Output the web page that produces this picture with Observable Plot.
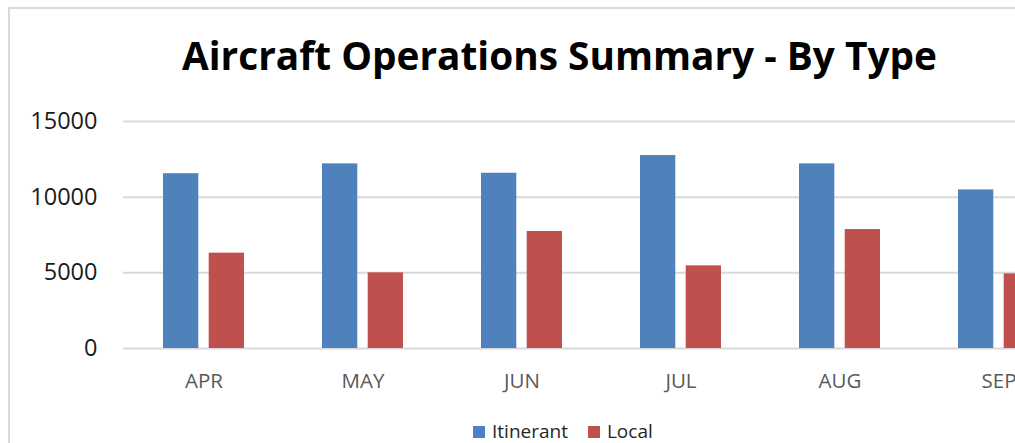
<!DOCTYPE html>
<html>
<head>
<meta charset="utf-8">
<script src="https://cdn.jsdelivr.net/npm/d3@7"></script>
<script src="https://cdn.jsdelivr.net/npm/@observablehq/plot@0.6"></script>
<style>
  html, body { margin: 0; padding: 0; background: #fff; }
  body { width: 1015px; height: 443px; overflow: hidden; position: relative; font-family: "Open Sans", sans-serif; }
  #frame { position: absolute; left: 8px; top: 7px; width: 1120px; height: 480px;
           border-top: 2px solid #d9d9d9; border-left: 2px solid #d9d9d9; box-sizing: border-box; }
  #title { position: absolute; left: 0; top: 0; }
  #chart { position: absolute; left: 0; top: 100px; width: 1110px; }
  #chart svg { max-width: none !important; }
  #legend { position: absolute; left: 473px; top: 422px; display: flex; align-items: center;
            font-size: 19px; line-height: 19px; color: #262626; white-space: nowrap; }
  #legend .sw { display: inline-block; width: 12px; height: 12px; margin-right: 7px; }
  #legend .item { display: flex; align-items: center; margin-right: 20px; }
</style>
</head>
<body>
<div id="frame"></div>
<div id="title"></div>
<div id="chart"></div>
<div id="legend"></div>
<script>
const months = ["APR", "MAY", "JUN", "JUL", "AUG", "SEP"];
const itinerant = [11550, 12200, 11580, 12750, 12200, 10480];
const local = [6300, 5000, 7730, 5460, 7860, 4930];
const seriesNames = ["Itinerant", "Local"];
const seriesColors = ["#4F81BD", "#C0504D"];
const yTicks = [0, 5000, 10000, 15000];
const titleText = "Aircraft Operations Summary - By Type";

const itData = months.map((m, i) => ({month: m, value: itinerant[i]}));
const loData = months.map((m, i) => ({month: m, value: local[i]}));

// Title
const tsvg = d3.select("#title").append("svg").attr("width", 1015).attr("height", 100);
tsvg.append("text")
  .attr("x", 182).attr("y", 70)
  .attr("textLength", 755).attr("lengthAdjust", "spacingAndGlyphs")
  .attr("font-family", "Open Sans, sans-serif")
  .attr("font-weight", "bold").attr("font-size", 39)
  .attr("fill", "#000")
  .text(titleText);

// Chart
const W = 1110;
const bandInset = 45.7;
const plot = Plot.plot({
  width: W,
  height: 300,
  marginTop: 21,
  marginBottom: 52,
  marginLeft: 123,
  marginRight: W - 1079,
  style: {fontFamily: "Open Sans, sans-serif", fontSize: "19px", background: "transparent", overflow: "visible", maxWidth: "none"},
  x: {type: "band", domain: months, paddingInner: 0.49, paddingOuter: 0.245, label: null},
  y: {domain: [0, 15000], label: null},
  marks: [
    Plot.gridY(yTicks, {stroke: "#d9d9d9", strokeOpacity: 1, strokeWidth: 2}),
    Plot.barY(itData, {x: "month", y: "value", fill: seriesColors[0], insetRight: bandInset}),
    Plot.barY(loData, {x: "month", y: "value", fill: seriesColors[1], insetLeft: bandInset}),
    Plot.axisY(yTicks, {tickSize: 0, tickPadding: 26, fontSize: 23.5, fill: "#1a1a1a", label: null, tickFormat: d => String(d)}),
    Plot.axisX({tickSize: 0, tickPadding: 24.5, fontSize: 20.5, fill: "#595959", label: null})
  ]
});
plot.style.maxWidth = "none";
plot.setAttribute("width", W);
document.getElementById("chart").appendChild(plot);

// Legend
const lg = d3.select("#legend");
seriesNames.forEach((n, i) => {
  const it = lg.append("div").attr("class", "item");
  it.append("span").attr("class", "sw").style("background", seriesColors[i]);
  it.append("span").text(n);
});
</script>
</body>
</html>
